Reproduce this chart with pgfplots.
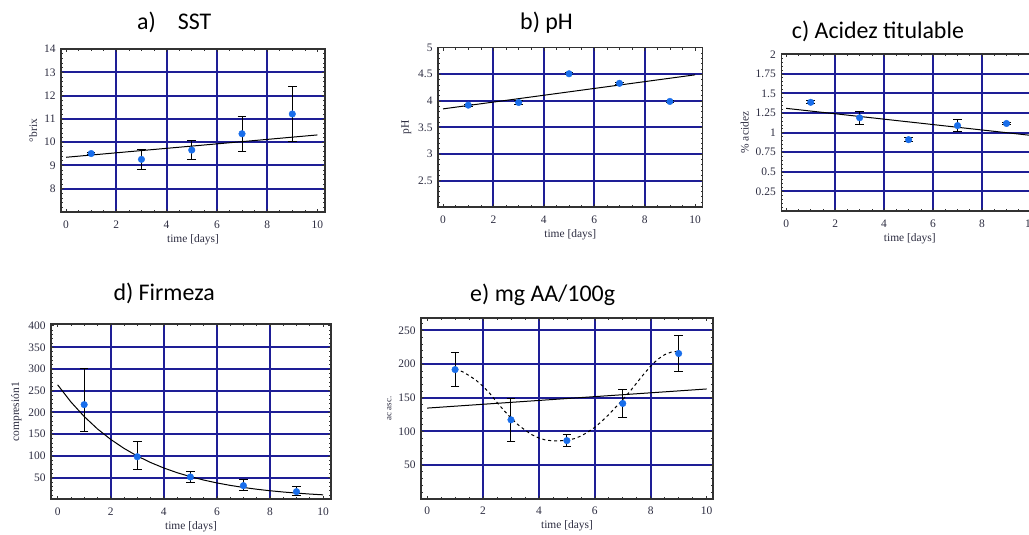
\documentclass[border=0pt]{standalone}
\usepackage{fontspec}
\setmainfont{Liberation Serif}
\newfontfamily\titlefont{Carlito}
\usepackage{pgfplots}
\pgfplotsset{compat=1.18}
\definecolor{gridnavy}{RGB}{30,30,150}
\definecolor{dotblue}{RGB}{25,110,235}
\definecolor{framegray}{RGB}{50,50,50}
\definecolor{ticktext}{RGB}{45,45,65}
\pgfplotsset{panel/.style={
  scale only axis, anchor=south west,
  axis line style={framegray, line width=1.6bp},
  tick align=inside, tick pos=both,
  major tick length=3bp, minor tick length=2bp,
  tick style={framegray, line width=0.6bp},
  grid=major,
  major grid style={gridnavy, line width=2bp},
  ticklabel style={font=\fontsize{11.5}{13}\selectfont, text=ticktext},
  xticklabel style={yshift=-5bp},
  yticklabel style={xshift=-2bp},
  label style={font=\fontsize{11.5}{13}\selectfont, text=ticktext},
  xlabel style={yshift=1bp},
  /pgf/number format/assume math mode=true,
  xtick={2,4,6,8}, extra x ticks={0,10}, extra tick style={grid=none},
  minor xtick={0,0.5,...,10},
  xlabel={time [days]},
  xmin=-0.2, xmax=10.3,
  clip=false,
},
pts/.style={only marks, mark=*, mark size=3.3bp, dotblue,
  error bars/.cd, y dir=both, y explicit,
  error bar style={black, line width=1bp},
  error mark options={rotate=90, black, mark size=4.3bp, line width=1bp}},
fit/.style={black, line width=1bp, no marks}
}
\begin{document}
\begin{tikzpicture}
\useasboundingbox (0,0) rectangle (1029bp,535bp);
\fill[white] (0,0) rectangle (1029bp,535bp);
% a) SST
\begin{axis}[panel, at={(61bp,323bp)}, width=264bp, height=163bp,
  ymin=7, ymax=14, ytick={8,...,13}, extra y ticks={14},
  minor ytick={7,7.2,...,14}, ylabel={°brix}]
\addplot[fit] coordinates {(0,9.35) (10,10.31)};
\addplot[pts] coordinates {
 (1,9.51) +- (0,0.04)
 (3,9.26) +- (0,0.42)
 (5,9.66) +- (0,0.40)
 (7,10.36) +- (0,0.76)
 (9,11.21) +- (0,1.2)
};
\end{axis}
% b) pH
\begin{axis}[panel, at={(438bp,327.7bp)}, width=264.6bp, height=159.6bp,
  ymin=2, ymax=5, ytick={2.5,3,3.5,4,4.5}, extra y ticks={5},
  minor ytick={2,2.1,...,5}, ylabel={pH}]
\addplot[fit] coordinates {(0,3.85) (10,4.49)};
\addplot[pts] coordinates {
 (1,3.92) +- (0,0.02)
 (3,3.97) +- (0,0.04)
 (5,4.51) +- (0,0.02)
 (7,4.33) +- (0,0.02)
 (9,3.99) +- (0,0.02)
};
\end{axis}
% c) Acidez titulable
\begin{axis}[panel, at={(781.3bp,324bp)}, width=257bp, height=156.7bp,
  ymin=0, ymax=2, ytick={0.25,0.5,...,1.75}, extra y ticks={2},
  minor ytick={0,0.05,...,2}, ylabel={\% acidez}]
\addplot[fit] coordinates {(0,1.31) (10,0.965)};
\addplot[pts] coordinates {
 (1,1.387) +- (0,0.02)
 (3,1.19) +- (0,0.085)
 (5,0.91) +- (0,0.025)
 (7,1.09) +- (0,0.08)
 (9,1.117) +- (0,0.01)
};
\end{axis}
% d) Firmeza
\begin{axis}[panel, at={(51bp,35.7bp)}, width=280bp, height=175bp,
  xmin=-0.25, xmax=10.3,
  ymin=0, ymax=403, ytick={50,100,...,350}, extra y ticks={400},
  minor ytick={0,10,...,400}, ylabel={compresión1}]
\addplot[fit] coordinates {
 (0,263.6) (0.5,224.2) (1,190.7) (1.5,162.1) (2,137.9) (2.5,117.3)
 (3,99.7) (3.5,84.8) (4,72.1) (4.5,61.3) (5,52.2) (5.5,44.4) (6,37.7)
 (6.5,32.1) (7,27.3) (7.5,23.2) (8,19.7) (8.5,16.8) (9,14.3) (9.5,12.1) (10,10.3)};
\addplot[pts] coordinates {
 (1,218) += (0,84) -= (0,61)
 (3,98) += (0,36) -= (0,29.5)
 (5,51.5) += (0,13.5) -= (0,12.5)
 (7,31.5) += (0,14.5) -= (0,10.5)
 (9,17.6) += (0,10.9) -= (0,9.2)
};
\end{axis}
% e) mg AA/100g
\begin{axis}[panel, at={(421bp,36.3bp)}, width=292bp, height=180.4bp,
  xmin=-0.22, xmax=10.23,
  ymin=0, ymax=268, ytick={50,100,...,250},
  minor ytick={0,10,...,260}, ylabel={ac asc.},
  ylabel style={font=\fontsize{9}{10}\selectfont}]
\addplot[fit] coordinates {(0,134.6) (10,163)};
\addplot[black, line width=1bp, dashed, no marks] coordinates {
 (1.0,192) (1.25,189) (1.5,183) (1.75,176) (2.0,167) (2.25,156) (2.5,143)
 (2.75,131) (3.0,120) (3.25,110) (3.5,102) (3.75,95) (4.0,90) (4.25,87)
 (4.5,86) (4.75,86) (5.0,87) (5.25,89) (5.5,93) (5.75,99) (6.0,106)
 (6.25,115) (6.5,125) (6.75,136) (7.0,147) (7.25,159) (7.5,172) (7.75,185)
 (8.0,197) (8.25,207) (8.5,214) (8.75,218) (9.0,219)};
\addplot[pts] coordinates {
 (1,191.8) +- (0,25)
 (3,117.2) +- (0,31.5)
 (5,86.3) +- (0,9.2)
 (7,141.5) +- (0,21)
 (9,215.7) +- (0,27)
};
\end{axis}
% titles
\begin{scope}[every node/.style={anchor=base west, inner sep=0pt, font=\titlefont\fontsize{24}{28}\selectfont}]
\node at (137bp,505bp) {a)\hspace{22bp}SST};
\node at (520bp,505bp) {b) pH};
\node at (791.7bp,496.7bp) {c) Acidez titulable};
\node at (113.3bp,234.3bp) {d) Firmeza};
\node at (470bp,233.3bp) {e) mg AA/100g};
\end{scope}
\end{tikzpicture}
\end{document}
